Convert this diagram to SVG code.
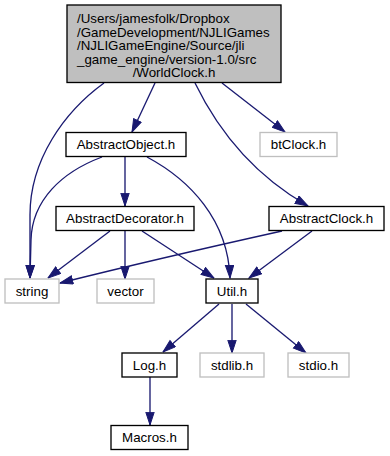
<svg xmlns="http://www.w3.org/2000/svg" width="390" height="456" viewBox="0 0 390 456">
  <style>
    .node rect { fill: #ffffff; stroke: #000000; stroke-width: 1.33; }
    .node.ext rect { stroke: #bfbfbf; }
    .node.root rect { fill: #bfbfbf; }
    .node text { font-family: "Liberation Sans", Helvetica, Arial, sans-serif; font-size: 13.33px; fill: #000000; }
    .edges path { fill: none; stroke: #191970; stroke-width: 1.33; marker-end: url(#arrow); }
  </style>
  <defs>
    <marker id="arrow" markerUnits="userSpaceOnUse" markerWidth="14" markerHeight="10" refX="13.3" refY="4.7" orient="auto">
      <path d="M0.5,0.5 L13.3,4.7 L0.5,8.9 Z" fill="#191970" stroke="#191970" stroke-width="1"/>
    </marker>
  </defs>
  <rect width="390" height="456" fill="#ffffff"/>

  <!-- dependency edges -->
  <g id="edges" class="edges">
    <path id="e-worldclock-string" d="M104,83 C64,112 30,160 30,215 L30,278"/>
    <path id="e-worldclock-abstractobject" d="M155,83 L132,132"/>
    <path id="e-worldclock-abstractclock" d="M195,83 C213,120 245,170 308,206"/>
    <path id="e-worldclock-btclock" d="M222,83 L285,132"/>
    <path id="e-abstractobject-string" d="M102,157 C62,172 32,200 31,240 L30,278"/>
    <path id="e-abstractobject-abstractdecorator" d="M125,157 L125,206"/>
    <path id="e-abstractobject-util" d="M147,157 C190,180 228,220 230,278"/>
    <path id="e-abstractdecorator-string" d="M110,231 L48,278"/>
    <path id="e-abstractdecorator-vector" d="M125,231 L125,279"/>
    <path id="e-abstractdecorator-util" d="M142,231 L214,278"/>
    <path id="e-abstractclock-string" d="M282,231 C210,247 120,268 60,283"/>
    <path id="e-abstractclock-util" d="M312,231 L249,278"/>
    <path id="e-util-log" d="M219,304 L163,352"/>
    <path id="e-util-stdlib" d="M232,304 L232,353"/>
    <path id="e-util-stdio" d="M246,304 L306,353"/>
    <path id="e-log-macros" d="M150,377 L150,425"/>
  </g>

  <!-- nodes -->
  <g id="worldclock" class="node root">
    <rect x="67" y="5" width="214" height="77.5"/>
    <text x="77" y="23">/Users/jamesfolk/Dropbox</text>
    <text x="77" y="36.5">/GameDevelopment/NJLIGames</text>
    <text x="77" y="50">/NJLIGameEngine/Source/jli</text>
    <text x="77" y="63.5">_game_engine/version-1.0/src</text>
    <text x="174" y="77" text-anchor="middle">/WorldClock.h</text>
  </g>
  <g id="abstractobject" class="node">
    <rect x="66" y="132.5" width="120" height="24"/>
    <text x="126" y="149" text-anchor="middle">AbstractObject.h</text>
  </g>
  <g id="btclock" class="node ext">
    <rect x="260" y="132.5" width="77" height="24"/>
    <text x="298.5" y="149" text-anchor="middle">btClock.h</text>
  </g>
  <g id="abstractdecorator" class="node">
    <rect x="56" y="206.5" width="138" height="24"/>
    <text x="125" y="223" text-anchor="middle">AbstractDecorator.h</text>
  </g>
  <g id="abstractclock" class="node">
    <rect x="269" y="206.5" width="115" height="24"/>
    <text x="326.5" y="223" text-anchor="middle">AbstractClock.h</text>
  </g>
  <g id="string" class="node ext">
    <rect x="5" y="279" width="54" height="24"/>
    <text x="32" y="295.5" text-anchor="middle">string</text>
  </g>
  <g id="vector" class="node ext">
    <rect x="97" y="279" width="57" height="24"/>
    <text x="125.5" y="295.5" text-anchor="middle">vector</text>
  </g>
  <g id="util" class="node">
    <rect x="206" y="279" width="52" height="24"/>
    <text x="232" y="295.5" text-anchor="middle">Util.h</text>
  </g>
  <g id="log" class="node">
    <rect x="122" y="353" width="55" height="24"/>
    <text x="149.5" y="369.5" text-anchor="middle">Log.h</text>
  </g>
  <g id="stdlib" class="node ext">
    <rect x="200" y="353" width="64" height="24"/>
    <text x="232" y="369.5" text-anchor="middle">stdlib.h</text>
  </g>
  <g id="stdio" class="node ext">
    <rect x="288" y="353" width="61" height="24"/>
    <text x="318.5" y="369.5" text-anchor="middle">stdio.h</text>
  </g>
  <g id="macros" class="node">
    <rect x="111" y="425.5" width="77" height="24"/>
    <text x="149.5" y="442" text-anchor="middle">Macros.h</text>
  </g>
</svg>
